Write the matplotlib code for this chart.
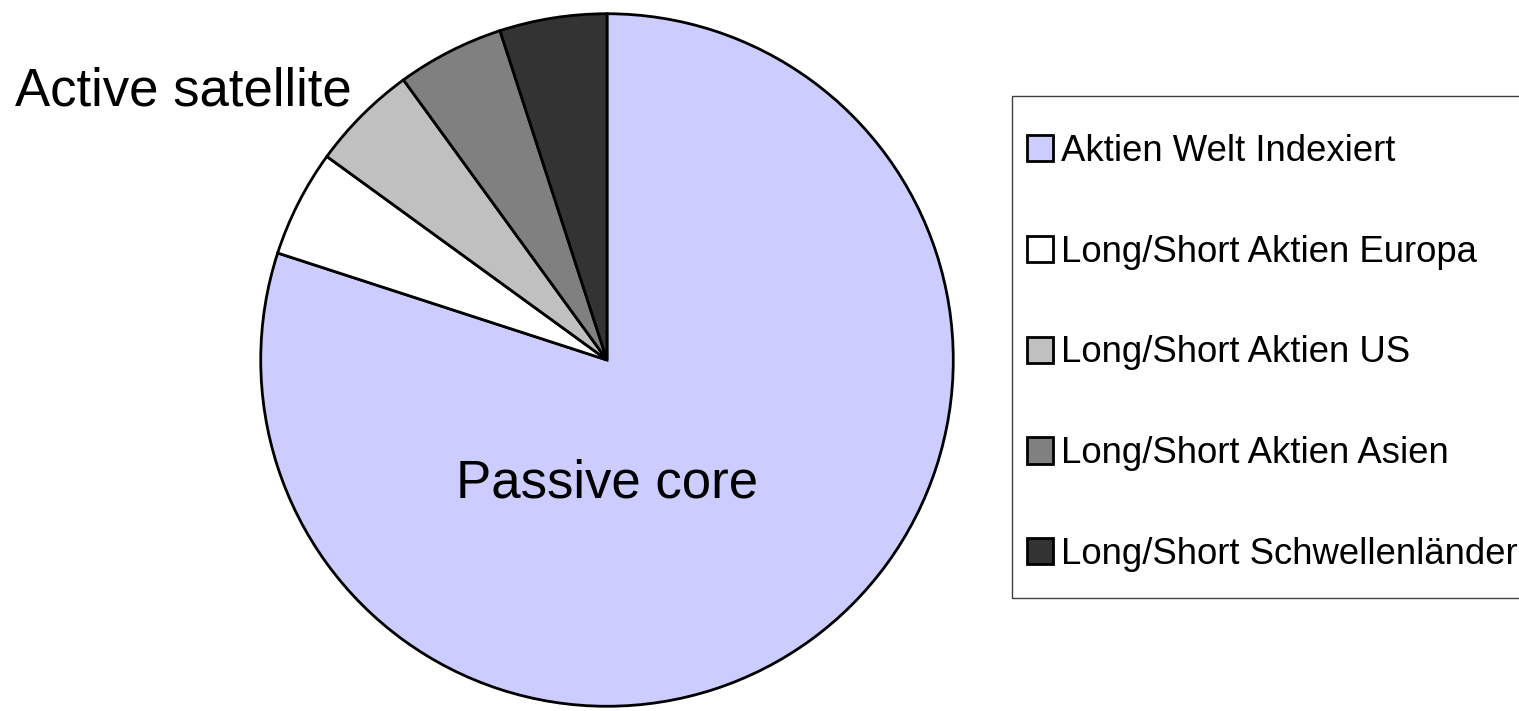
import matplotlib.pyplot as plt
from matplotlib.patches import Patch, Rectangle

plt.rcParams['font.family'] = ['Liberation Sans', 'DejaVu Sans']

labels = ['Aktien Welt Indexiert', 'Long/Short Aktien Europa', 'Long/Short Aktien US',
          'Long/Short Aktien Asien', 'Long/Short Schwellenländer']
shares = [80, 5, 5, 5, 5]
colors = ['#CCCCFF', '#FFFFFF', '#C0C0C0', '#808080', '#333333']

W, H = 1519, 711
fig = plt.figure(figsize=(W / 100, H / 100), dpi=100)
cx, cy, r = 607, 360, 348
ax = fig.add_axes([(cx - r) / W, (H - cy - r) / H, 2 * r / W, 2 * r / H])
wedges, _ = ax.pie(shares, colors=colors, startangle=90, counterclock=False,
                   wedgeprops=dict(edgecolor='black', linewidth=2))
ax.set_xlim(-1.005, 1.005)
ax.set_ylim(-1.005, 1.005)
ax.set_aspect('equal')

fig.text(cx / W, 1 - 497 / H, 'Passive core', ha='center', va='baseline', fontsize=38)
fig.text(15 / W, 1 - 105 / H, 'Active satellite', ha='left', va='baseline', fontsize=38)

# legend box (runs past the right edge, as in the original)
fig.patches.append(Rectangle((1012 / W, 1 - 598 / H), 600 / W, 502 / H,
                             transform=fig.transFigure, facecolor='none',
                             edgecolor='#404040', linewidth=1))

handles = [Patch(facecolor=c, edgecolor='black', linewidth=2) for c in colors]
leg = fig.legend(handles, labels, loc='upper left', bbox_to_anchor=(1027 / W, 1 - 134 / H),
                 fontsize=26.3, frameon=False,
                 handlelength=0.72, handleheight=0.72, handletextpad=0.22,
                 labelspacing=1.8, borderpad=0, borderaxespad=0)

fig.savefig('out.png', dpi=100)
